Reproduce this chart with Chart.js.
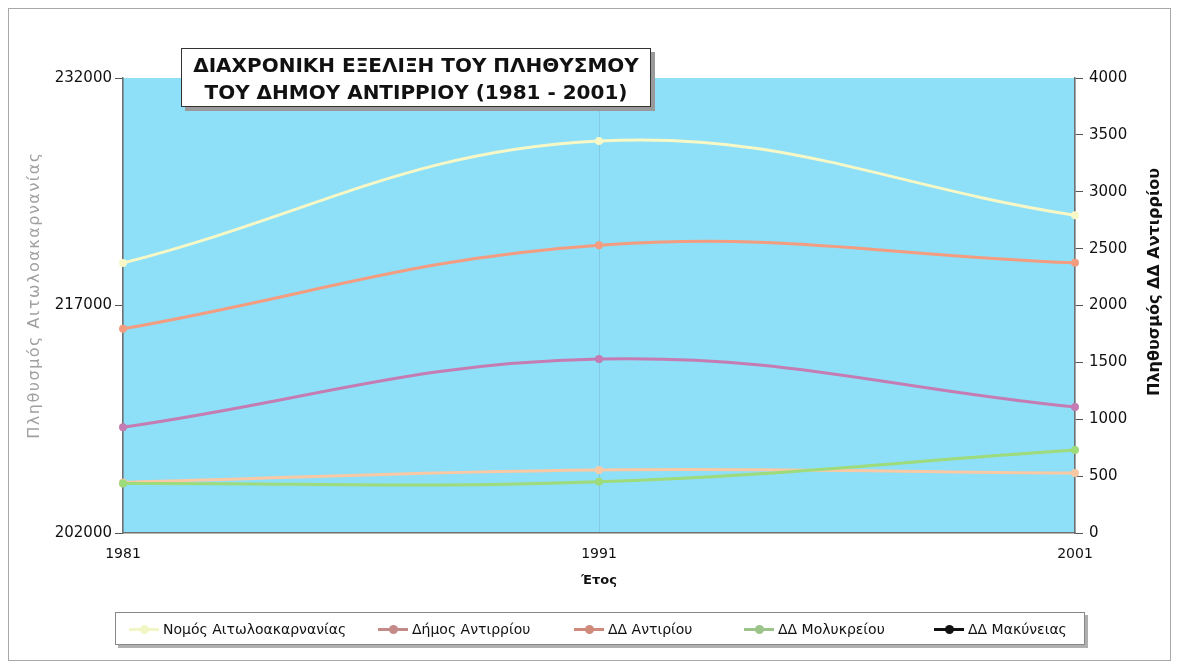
<!DOCTYPE html>
<html lang="el">
<head>
<meta charset="utf-8">
<script src="https://cdn.jsdelivr.net/npm/chart.js@4.4.1/dist/chart.umd.min.js"></script>
<style>
  body { margin: 0; background: #fff; font-family: "DejaVu Sans", sans-serif; }
  #wrap { position: relative; width: 1178px; height: 667px; }
  #frame { position: absolute; left: 8px; top: 8px; width: 1161px; height: 651px; border: 1px solid #a8a8a8; }
  canvas { position: absolute; left: 0; top: 0; }
  #titre {
    position: absolute; left: 181px; top: 48px; width: 470px; height: 59px;
    background: #fff; border: 1px solid #333; box-shadow: 4px 4px 0 #9a9a9a;
    font-weight: bold; font-size: 20px; line-height: 27px; text-align: center;
    padding-top: 3px; box-sizing: border-box; color: #111; white-space: nowrap;
  }
  #legende {
    position: absolute; left: 115px; top: 612px; width: 970px; height: 33px;
    background: #fff; border: 1px solid #888; box-shadow: 3px 3px 0 #b0b0b0; box-sizing: border-box;
  }
  .item { position: absolute; top: 0; height: 31px; display: flex; align-items: center; font-size: 14px; color: #111; white-space: nowrap; }
  .sym { position: relative; width: 30px; height: 10px; margin-right: 4px; }
  .sym .l { position: absolute; left: 0; right: 0; top: 4px; height: 3px; }
  .sym .p { position: absolute; left: 11px; top: 1px; width: 9px; height: 9px; border-radius: 50%; }
</style>
</head>
<body>
<div id="wrap">
  <div id="frame"></div>
  <canvas id="graphique" width="1178" height="667"></canvas>
  <div id="titre">ΔΙΑΧΡΟΝΙΚΗ ΕΞΕΛΙΞΗ ΤΟΥ ΠΛΗΘΥΣΜΟΥ<br>ΤΟΥ ΔΗΜΟΥ ΑΝΤΙΡΡΙΟΥ (1981 - 2001)</div>
  <div id="legende"></div>
</div>
<script>
// Données
const annees = ['1981', '1991', '2001'];
const nomos = [219800, 227850, 222950];        // axe gauche
const dimosAntirriou = [1795, 2530, 2375];     // axe droit
const ddAntirriou = [930, 1530, 1108];
const ddMolykreiou = [435, 450, 730];
const ddMakyneias = [445, 554, 527];

const labels = ['Νομός Αιτωλοακαρνανίας', 'Δήμος Αντιρρίου', 'ΔΔ Αντιρίου', 'ΔΔ Μολυκρείου', 'ΔΔ Μακύνειας'];
const couleurs = ['#f7f8c6', '#f39c80', '#c47cb2', '#9edb7a', '#f8c9a4'];
const couleursLegende = ['#f1f6c4', '#c48a88', '#cf8a7c', '#9cc48a', '#111111'];
const positionsLegende = [13, 262, 458, 628, 818];   // dans la boîte de légende

// Fond bleu de la zone de tracé
const fondPlugin = {
  id: 'fond',
  beforeDraw(chart) {
    const { ctx, chartArea: a } = chart;
    ctx.save();
    ctx.fillStyle = '#8edff8';
    ctx.fillRect(a.left, a.top, a.right - a.left, a.bottom - a.top);
    ctx.restore();
  }
};

// Titres des axes verticaux (lus de bas en haut)
function titreVertical(ctx, texte, x, y, font, couleur, espacement) {
  ctx.save();
  ctx.translate(x, y);
  ctx.rotate(-Math.PI / 2);
  ctx.font = font;
  ctx.fillStyle = couleur;
  ctx.letterSpacing = espacement;
  ctx.textAlign = 'center';
  ctx.textBaseline = 'middle';
  ctx.fillText(texte, 0, 0);
  ctx.restore();
}

const titresPlugin = {
  id: 'titres',
  afterDraw(chart) {
    const ctx = chart.ctx;
    titreVertical(ctx, 'Πληθυσμός Αιτωλοακαρνανίας', 35, 295, '16px "DejaVu Sans"', '#a0a0a0', '1.5px');
    titreVertical(ctx, 'Πληθυσμός ΔΔ Αντιρρίου', 1155, 282, 'bold 16px "DejaVu Sans"', '#111', '0px');
  }
};

const series = [nomos, dimosAntirriou, ddAntirriou, ddMolykreiou, ddMakyneias];
const datasets = series.map((data, i) => ({
  label: labels[i],
  data: data,
  yAxisID: i === 0 ? 'y' : 'y1',
  borderColor: couleurs[i],
  backgroundColor: couleurs[i],
  borderWidth: 3,
  pointRadius: 4,
  pointBorderWidth: 0,
  tension: 0.4,
  fill: false
}));
// dessiner le nomos au-dessus
datasets[0].order = -1;

const fontTicks = { family: 'DejaVu Sans', size: 15 };
const sansSeparateur = (v) => String(v);

new Chart(document.getElementById('graphique').getContext('2d'), {
  type: 'line',
  data: { labels: annees, datasets: datasets },
  options: {
    responsive: false,
    animation: false,
    layout: { padding: { left: 20, right: 0, top: 78, bottom: 64 } },
    plugins: {
      legend: { display: false },
      tooltip: { enabled: false }
    },
    scales: {
      x: {
        offset: false,
        afterFit: (s) => { s.height = 70; },
        grid: { color: 'rgba(110,160,190,0.35)', tickColor: 'transparent', tickLength: 8 },
        border: { color: '#707070', width: 1.5 },
        ticks: { color: '#111', font: { family: 'DejaVu Sans', size: 14 }, padding: 5, maxRotation: 0 },
        title: { display: true, text: 'Έτος', color: '#111', font: { family: 'DejaVu Sans', size: 13, weight: 'bold' }, padding: { top: 0, bottom: 15 } }
      },
      y: {
        position: 'left',
        min: 202000, max: 232000,
        afterFit: (s) => { s.width = 103; },
        grid: { drawOnChartArea: false, color: '#555', tickLength: 8 },
        border: { color: '#707070', width: 1.5 },
        ticks: { stepSize: 15000, color: '#111', font: fontTicks, padding: 3, callback: sansSeparateur }
      },
      y1: {
        position: 'right',
        min: 0, max: 4000,
        afterFit: (s) => { s.width = 103; },
        grid: { drawOnChartArea: false, color: '#555', tickLength: 8 },
        border: { color: '#707070', width: 1.5 },
        ticks: { stepSize: 500, color: '#111', font: fontTicks, padding: 6, callback: sansSeparateur }
      }
    }
  },
  plugins: [fondPlugin, titresPlugin]
});

// Légende façon Excel
const legende = document.getElementById('legende');
labels.forEach((texte, i) => {
  const item = document.createElement('div');
  item.className = 'item';
  item.style.left = positionsLegende[i] + 'px';
  const sym = document.createElement('span');
  sym.className = 'sym';
  sym.innerHTML = '<span class="l" style="background:' + couleursLegende[i] + '"></span>' +
    '<span class="p" style="background:' + couleursLegende[i] + '"></span>';
  item.appendChild(sym);
  item.appendChild(document.createTextNode(texte));
  legende.appendChild(item);
});
</script>
</body>
</html>
